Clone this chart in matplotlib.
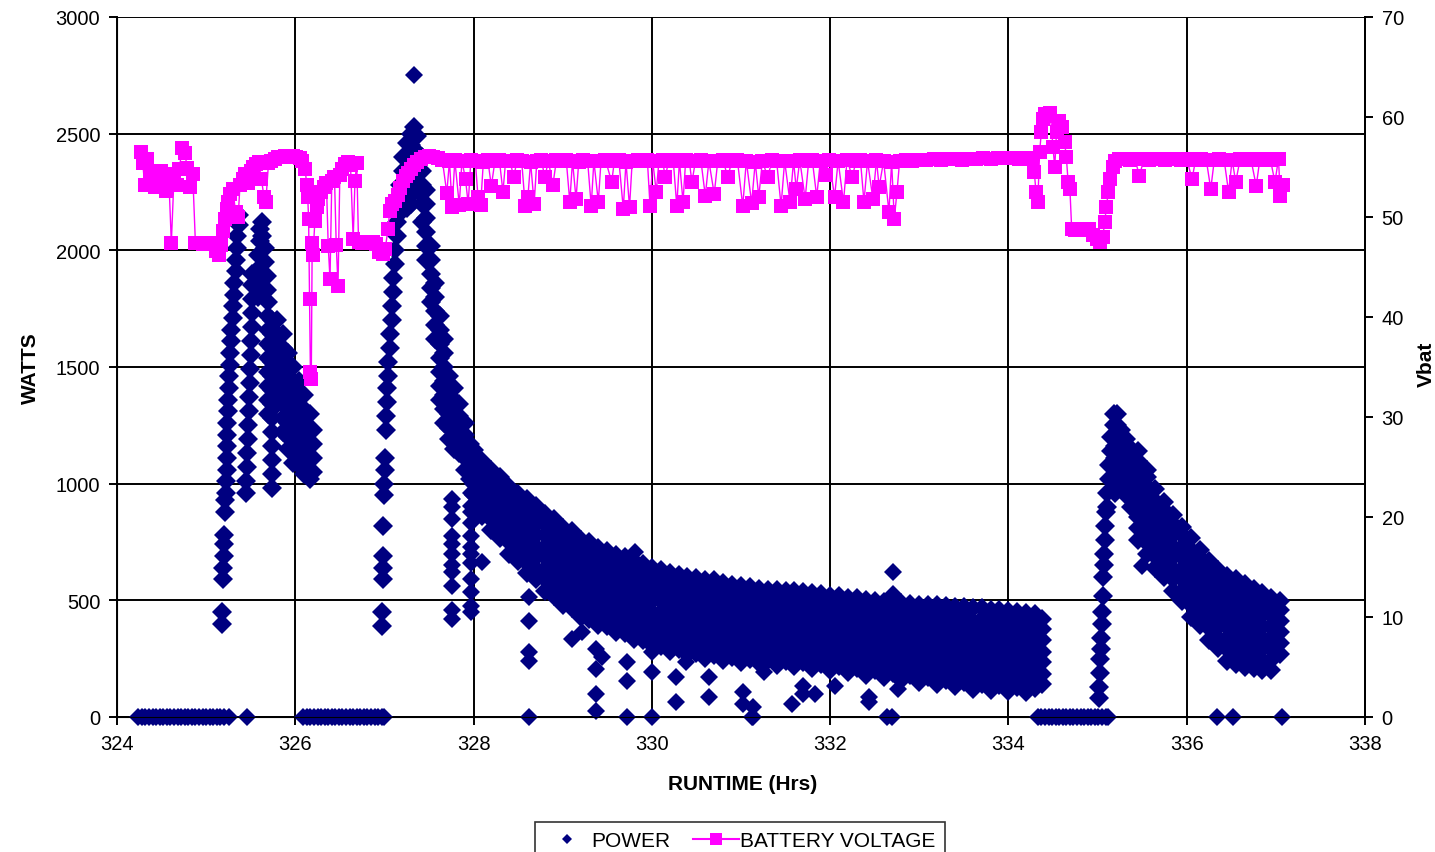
import matplotlib.pyplot as plt
from matplotlib.lines import Line2D

plt.rcParams['font.family'] = ['Liberation Sans', 'DejaVu Sans']

# --- POWER (W) -------------------------------------------------------------
# readings sitting on zero (inverter idle)
idle_hrs = [324.24, 324.28, 324.32, 324.36, 324.40, 324.44, 324.48, 324.52,
            324.56, 324.60, 324.64, 324.68, 324.72, 324.76, 324.80, 324.84,
            324.88, 324.92, 324.96, 325.00, 325.04, 325.08, 325.12, 325.16,
            325.20, 325.26, 325.46,
            326.09, 326.13, 326.17, 326.21, 326.25, 326.29, 326.33, 326.37,
            326.41, 326.45, 326.49, 326.53, 326.57, 326.61, 326.65, 326.69,
            326.73, 326.77, 326.81, 326.85, 326.89, 326.93, 326.97, 327.00,
            328.62, 329.72, 330.00, 331.12, 331.14, 332.64, 332.69,
            334.33, 334.37, 334.41, 334.45, 334.49, 334.53, 334.57, 334.61,
            334.65, 334.69, 334.73, 334.77, 334.81, 334.85, 334.89, 334.93,
            334.97, 335.01, 335.05, 335.09, 335.12,
            336.34, 336.52, 337.07]

# first morning ramp (hour, readings)
peak1_cols = [
    (325.18, [400, 450]), (325.19, [590, 640]), (325.20, [690, 740, 780]),
    (325.21, [880, 930]), (325.22, [960, 1010]), (325.23, [1060, 1110, 1160]),
    (325.24, [1210, 1260]), (325.25, [1310, 1360]), (325.26, [1410, 1460]),
    (325.27, [1510, 1560]), (325.28, [1610, 1660]), (325.30, [1710, 1760]),
    (325.31, [1810, 1860]), (325.33, [1910, 1960]), (325.35, [2010, 2060]),
    (325.37, [2110, 2150]),
    (325.45, [960, 1010]), (325.46, [1070, 1130]), (325.47, [1190, 1250]),
    (325.48, [1310, 1370]), (325.49, [1430, 1490]), (325.50, [1550, 1610]),
    (325.51, [1670, 1730]), (325.52, [1790, 1850, 1900]),
    (325.58, [1800, 1860, 1920, 1980]), (325.60, [2040, 2090]),
    (325.63, [2060, 2120]), (325.66, [1950, 2010]), (325.68, [1830, 1890]),
    (325.70, [1300, 1360, 1420, 1480, 1540, 1600, 1660, 1720, 1780]),
    (325.74, [980, 1040, 1100, 1160, 1220, 1280, 1340, 1400, 1460, 1520,
              1580, 1640, 1700]),
    (325.80, [1340, 1400, 1460, 1520, 1580, 1640, 1700]),
    (325.86, [1220, 1280, 1340, 1400, 1460, 1520, 1580, 1640]),
    (325.92, [1150, 1200, 1260, 1320, 1380, 1440, 1500, 1560]),
    (325.98, [1090, 1140, 1200, 1260, 1320, 1380, 1440, 1500]),
    (326.04, [1080, 1140, 1200, 1260, 1320, 1380, 1440]),
    (326.10, [1040, 1080, 1140, 1200, 1260, 1320, 1380]),
    (326.16, [1020, 1060, 1120, 1180, 1240, 1300]),
    (326.20, [1050, 1110, 1170, 1230]),
]

# second ramp up to the 2750 W spike, then the decay
peak2_cols = [
    (326.97, [390, 450]), (326.98, [590, 640]), (326.99, [690, 820]),
    (327.00, [950, 1000]), (327.01, [1060, 1110]), (327.02, [1230, 1290]),
    (327.03, [1350, 1410]), (327.04, [1460, 1520]), (327.06, [1580, 1640]),
    (327.08, [1700, 1760]), (327.10, [1820, 1880]), (327.12, [1940, 2000]),
    (327.14, [2060, 2120]), (327.17, [2160, 2220, 2280]),
    (327.21, [2200, 2280, 2340, 2400]),
    (327.25, [2180, 2250, 2320, 2400, 2460]),
    (327.30, [2200, 2300, 2380, 2450, 2500]),
    (327.33, [2250, 2350, 2430, 2530]),
    (327.37, [2260, 2340, 2420, 2490]),
    (327.42, [2120, 2200, 2280, 2340, 2400]),
    (327.47, [1960, 2020, 2080, 2140, 2200, 2260]),
    (327.52, [1780, 1840, 1900, 1960, 2020]),
    (327.57, [1620, 1680, 1740, 1800, 1860]),
    (327.62, [1360, 1420, 1480, 1540, 1600, 1660, 1720]),
    (327.67, [1260, 1320, 1380, 1440, 1500, 1560, 1620]),
    (327.72, [1190, 1240, 1300, 1350, 1400, 1460]),
    (327.78, [1150, 1200, 1250, 1300, 1360, 1410]),
    (327.84, [1130, 1180, 1230, 1290, 1340]),
    (327.90, [1060, 1110, 1160, 1210, 1260]),
    (327.96, [1020, 1070, 1120, 1170]),
]

# long afternoon taper
band_cols = [
    (328.0, [905, 950, 1000, 1045, 1095, 1145]),
    (328.1, [860, 905, 955, 1000, 1050, 1095]),
    (328.2, [800, 850, 895, 945, 990, 1040, 1060]),
    (328.3, [765, 810, 860, 905, 955, 1000, 1030]),
    (328.4, [700, 750, 795, 845, 890, 940, 985]),
    (328.5, [670, 715, 765, 810, 860, 905, 955]),
    (328.6, [615, 660, 710, 755, 805, 850, 900, 935]),
    (328.7, [590, 635, 685, 730, 780, 825, 870, 905]),
    (328.8, [540, 590, 635, 685, 730, 780, 825, 870]),
    (328.9, [520, 565, 615, 660, 710, 755, 800, 850]),
    (329.0, [480, 525, 575, 620, 670, 715, 765, 810]),
    (329.1, [465, 510, 560, 605, 655, 700, 750, 795]),
    (329.2, [430, 475, 525, 570, 620, 665, 715, 760]),
    (329.3, [420, 465, 515, 560, 610, 655, 700, 750]),
    (329.4, [395, 440, 490, 535, 585, 630, 680, 725]),
    (329.5, [390, 435, 485, 530, 580, 625, 670, 710]),
    (329.6, [365, 410, 460, 505, 555, 600, 650, 695]),
    (329.7, [360, 405, 455, 500, 550, 595, 640, 685]),
    (329.8, [335, 380, 430, 475, 525, 570, 620, 670]),
    (329.9, [330, 375, 425, 470, 520, 565, 610, 655]),
    (330.0, [310, 355, 405, 450, 500, 545, 595, 640]),
    (330.1, [305, 350, 400, 445, 495, 540, 585, 630]),
    (330.2, [283, 330, 375, 425, 470, 520, 565, 615]),
    (330.3, [290, 335, 385, 430, 480, 525, 570, 610]),
    (330.4, [268, 315, 360, 410, 455, 505, 550, 600]),
    (330.5, [275, 320, 370, 415, 465, 510, 555, 595]),
    (330.6, [253, 300, 345, 395, 440, 490, 535, 585]),
    (330.7, [265, 310, 360, 405, 455, 500, 545, 585]),
    (330.8, [243, 290, 335, 385, 430, 480, 525, 575]),
    (330.9, [255, 300, 350, 395, 445, 490, 535, 565]),
    (331.0, [236, 280, 330, 375, 425, 470, 520, 560]),
    (331.1, [250, 295, 345, 390, 440, 485, 530, 555]),
    (331.2, [230, 275, 325, 370, 420, 465, 510, 548]),
    (331.3, [245, 290, 340, 385, 435, 480, 525, 545]),
    (331.4, [224, 270, 320, 365, 415, 460, 505, 545]),
    (331.5, [240, 285, 335, 380, 430, 475, 520, 540]),
    (331.6, [217, 265, 310, 360, 405, 455, 500, 540]),
    (331.7, [235, 280, 330, 375, 425, 470, 515, 535]),
    (331.8, [210, 258, 305, 355, 400, 450, 495, 530]),
    (331.9, [228, 275, 320, 370, 415, 465, 510, 525]),
    (332.0, [201, 248, 295, 345, 390, 440, 485, 520]),
    (332.1, [220, 265, 315, 360, 410, 455, 500, 518]),
    (332.2, [191, 240, 285, 335, 380, 430, 475, 512]),
    (332.3, [210, 255, 305, 350, 400, 445, 490, 508]),
    (332.4, [181, 230, 275, 325, 370, 420, 465, 502]),
    (332.5, [200, 245, 295, 340, 390, 435, 480, 498]),
    (332.6, [170, 220, 265, 315, 360, 410, 455, 492]),
    (332.7, [190, 235, 285, 330, 380, 425, 470, 490]),
    (332.8, [160, 210, 255, 305, 350, 400, 445, 488]),
    (332.9, [180, 225, 275, 320, 370, 415, 460, 485]),
    (333.0, [150, 200, 245, 295, 340, 390, 435, 482]),
    (333.1, [170, 215, 265, 310, 360, 405, 450, 480]),
    (333.2, [141, 190, 235, 285, 330, 380, 425, 478]),
    (333.3, [160, 205, 255, 300, 350, 395, 440, 476]),
    (333.4, [131, 180, 225, 275, 320, 370, 415, 470]),
    (333.5, [150, 195, 245, 290, 340, 385, 430, 472]),
    (333.6, [122, 170, 215, 265, 310, 360, 405, 465]),
    (333.7, [140, 185, 235, 280, 330, 375, 420, 466]),
    (333.8, [116, 165, 210, 260, 305, 355, 400, 460]),
    (333.9, [135, 180, 230, 275, 325, 370, 415, 460]),
    (334.0, [110, 160, 205, 255, 300, 350, 395, 455]),
    (334.1, [130, 175, 225, 270, 320, 365, 410, 450]),
    (334.2, [108, 155, 200, 250, 295, 345, 390, 445]),
    (334.3, [125, 170, 220, 265, 315, 360, 405, 440]),
    (334.38, [140, 185, 235, 280, 330, 375, 420]),
]

# last ramp and decay
peak3_cols = [
    (335.02, [80, 130]), (335.03, [190, 250]), (335.04, [290, 340]),
    (335.05, [400, 450]), (335.06, [520, 600]), (335.07, [650, 700]),
    (335.08, [760, 820]), (335.09, [880]), (335.11, [900, 960]),
    (335.13, [1020, 1080]), (335.15, [1140, 1200]), (335.18, [1250, 1300]),
    (335.20, [960, 1010, 1060, 1110, 1160, 1210]),
    (335.22, [1250, 1300]),
    (335.26, [980, 1030, 1080, 1130, 1180, 1230]),
    (335.32, [950, 1000, 1050, 1100, 1150, 1190]),
    (335.38, [900, 950, 1000, 1050, 1100, 1150]),
    (335.45, [760, 810, 855, 905, 950, 1000, 1045, 1095, 1140]),
    (335.55, [700, 745, 795, 840, 890, 935, 985, 1030, 1060]),
    (335.65, [640, 690, 735, 785, 830, 880, 925, 975]),
    (335.75, [600, 645, 695, 740, 790, 835, 885, 920]),
    (335.85, [540, 590, 635, 685, 730, 780, 825, 865]),
    (335.95, [495, 540, 590, 635, 685, 730, 780, 815]),
    (336.05, [430, 480, 525, 575, 620, 670, 715, 765]),
    (336.15, [395, 440, 490, 535, 585, 630, 680, 715]),
    (336.25, [330, 380, 425, 475, 520, 570, 615, 670]),
    (336.35, [295, 340, 390, 435, 485, 530, 580, 630]),
    (336.45, [240, 290, 335, 385, 430, 480, 525, 575, 605]),
    (336.55, [225, 270, 320, 365, 415, 460, 510, 555, 590]),
    (336.65, [215, 260, 310, 355, 405, 450, 500, 545, 570]),
    (336.75, [210, 255, 300, 350, 395, 445, 490, 535, 550]),
    (336.85, [200, 245, 295, 340, 390, 435, 485, 530]),
    (336.95, [200, 245, 290, 340, 385, 435, 480, 510]),
    (337.05, [270, 315, 365, 410, 460, 495]),
]

# isolated readings off the main cloud
stray_cols = [
    (327.33, [2750]),
    (327.76, [420, 460, 560, 620, 650, 700, 740, 775, 850, 900, 935]),
    (327.97, [450, 475, 535, 590, 660, 700, 730, 775, 830, 880, 905, 960]),
    (328.10, [664]), (328.62, [514, 411, 279, 240]), (329.10, [334]),
    (329.22, [364]), (329.37, [291, 206, 99, 26]), (329.44, [257]),
    (329.72, [236, 154]), (329.81, [707]), (330.00, [279, 193]),
    (330.27, [171, 64]), (330.38, [236]), (330.64, [171, 86]),
    (331.02, [107, 56]), (331.13, [43]), (331.26, [193]), (331.57, [56]),
    (331.70, [133, 99]), (331.83, [99]), (332.05, [133]),
    (332.44, [86, 64]), (332.70, [621, 527]), (332.76, [120]),
    (335.50, [649]),
]

# --- BATTERY VOLTAGE (V) ---------------------------------------------------
volt_pts = [
    (324.27, 56.5), (324.29, 55.4), (324.31, 53.2), (324.34, 55.8),
    (324.37, 54.6), (324.40, 54.1), (324.43, 53.0), (324.46, 54.0),
    (324.49, 54.6), (324.52, 53.7), (324.55, 52.6), (324.58, 54.3),
    (324.61, 47.4), (324.64, 54.0), (324.67, 53.2), (324.70, 54.8),
    (324.73, 56.9), (324.76, 56.4), (324.79, 54.9), (324.82, 53.0),
    (324.85, 54.3), (324.88, 47.4), (324.92, 47.4), (324.96, 47.3),
    (325.00, 47.4), (325.04, 47.3), (325.08, 47.4), (325.11, 46.6),
    (325.14, 46.2), (325.17, 47.2), (325.19, 48.6), (325.21, 49.8),
    (325.23, 50.8), (325.25, 51.5), (325.27, 52.3), (325.30, 52.8),
    (325.33, 50.5), (325.36, 50.0), (325.38, 53.2), (325.41, 53.8),
    (325.44, 54.3), (325.47, 53.4), (325.50, 54.6), (325.53, 55.0),
    (325.56, 55.3), (325.59, 55.5), (325.62, 53.8), (325.65, 52.0),
    (325.67, 51.5), (325.70, 55.4), (325.73, 55.6), (325.77, 55.8),
    (325.81, 56.0), (325.85, 56.0), (325.89, 56.1), (325.93, 56.0),
    (325.97, 56.1), (326.01, 56.0), (326.05, 55.9), (326.08, 55.6),
    (326.11, 54.8), (326.13, 53.2), (326.14, 52.0), (326.15, 49.8),
    (326.16, 41.8), (326.17, 34.5), (326.18, 33.8), (326.19, 47.4),
    (326.20, 46.2), (326.22, 49.6), (326.24, 51.0), (326.26, 51.8),
    (326.29, 52.5), (326.32, 53.0), (326.35, 53.4), (326.37, 47.1),
    (326.39, 43.8), (326.41, 53.6), (326.44, 54.0), (326.46, 47.2),
    (326.48, 43.1), (326.50, 54.2), (326.53, 54.8), (326.56, 55.3),
    (326.59, 55.5), (326.62, 55.2), (326.65, 47.8), (326.67, 53.6),
    (326.69, 55.4), (326.71, 47.5), (326.75, 47.4), (326.79, 47.5),
    (326.83, 47.4), (326.87, 47.5), (326.91, 47.3), (326.94, 46.5),
    (326.98, 46.3), (327.01, 46.8), (327.04, 48.8), (327.06, 50.6),
    (327.09, 51.3), (327.12, 51.6), (327.15, 52.2), (327.18, 52.9),
    (327.21, 53.6), (327.24, 54.1), (327.27, 54.4), (327.30, 54.8),
    (327.33, 55.2), (327.37, 55.5), (327.41, 55.8), (327.45, 56.0),
    (327.50, 56.1), (327.55, 56.0), (327.60, 55.9), (327.65, 55.7),
    (327.70, 52.4), (327.73, 55.6), (327.76, 51.0), (327.79, 55.7),
    (327.84, 51.2), (327.87, 55.6), (327.91, 53.8), (327.94, 51.3),
    (327.97, 55.7), (328.02, 55.6), (328.05, 52.0), (328.08, 51.2),
    (328.11, 55.5), (328.16, 55.7), (328.20, 53.1), (328.24, 55.6),
    (328.29, 55.7), (328.33, 52.5), (328.36, 55.6), (328.41, 55.6),
    (328.45, 54.0), (328.49, 55.7), (328.54, 55.6), (328.58, 51.1),
    (328.61, 52.0), (328.64, 55.5), (328.68, 51.3), (328.71, 55.6),
    (328.76, 55.7), (328.80, 54.0), (328.84, 55.6), (328.89, 53.2),
    (328.93, 55.7), (328.98, 55.6), (329.04, 55.7), (329.08, 51.5),
    (329.11, 55.6), (329.15, 51.8), (329.18, 55.5), (329.23, 55.7),
    (329.28, 55.6), (329.32, 51.1), (329.35, 55.6), (329.40, 51.5),
    (329.43, 55.6), (329.48, 55.7), (329.55, 53.5), (329.58, 55.6),
    (329.63, 55.7), (329.68, 50.8), (329.71, 55.5), (329.75, 51.0),
    (329.78, 55.6), (329.84, 55.7), (329.90, 55.6), (329.95, 55.7),
    (329.98, 51.1), (330.01, 55.6), (330.05, 52.5), (330.08, 55.6),
    (330.12, 55.7), (330.15, 54.0), (330.19, 55.6), (330.24, 55.7),
    (330.28, 51.1), (330.31, 55.6), (330.35, 51.5), (330.38, 55.7),
    (330.42, 55.6), (330.45, 53.5), (330.49, 55.6), (330.55, 55.7),
    (330.60, 52.1), (330.64, 55.6), (330.70, 52.3), (330.74, 55.6),
    (330.80, 55.7), (330.85, 54.0), (330.90, 55.6), (330.96, 55.7),
    (331.02, 51.1), (331.06, 55.6), (331.12, 51.4), (331.16, 55.5),
    (331.20, 52.0), (331.24, 55.6), (331.30, 54.0), (331.35, 55.7),
    (331.40, 55.6), (331.45, 51.1), (331.49, 55.6), (331.55, 51.5),
    (331.59, 55.6), (331.62, 52.8), (331.66, 55.7), (331.72, 51.8),
    (331.76, 55.6), (331.80, 55.7), (331.85, 52.0), (331.89, 55.6),
    (331.95, 54.2), (331.99, 55.7), (332.05, 52.0), (332.09, 55.6),
    (332.15, 51.5), (332.19, 55.7), (332.25, 54.0), (332.29, 55.6),
    (332.34, 55.7), (332.38, 51.5), (332.42, 55.6), (332.48, 51.8),
    (332.52, 55.7), (332.55, 53.0), (332.60, 55.6), (332.66, 50.5),
    (332.69, 55.5), (332.72, 49.8), (332.75, 52.5), (332.78, 55.6),
    (332.85, 55.7), (332.92, 55.6), (333.00, 55.7), (333.08, 55.7),
    (333.16, 55.8), (333.24, 55.7), (333.32, 55.8), (333.40, 55.8),
    (333.48, 55.7), (333.56, 55.8), (333.64, 55.8), (333.72, 55.9),
    (333.80, 55.8), (333.88, 55.9), (333.96, 55.9), (334.04, 55.9),
    (334.12, 55.8), (334.20, 55.9), (334.26, 55.8), (334.29, 54.5),
    (334.31, 52.5), (334.33, 51.5), (334.35, 56.5), (334.37, 58.5),
    (334.39, 59.8), (334.41, 60.3), (334.44, 60.1), (334.47, 60.4),
    (334.50, 57.0), (334.52, 55.0), (334.54, 58.5), (334.57, 59.6),
    (334.60, 59.0), (334.63, 57.5), (334.65, 56.0), (334.67, 53.5),
    (334.69, 52.8), (334.71, 48.8), (334.75, 48.7), (334.80, 48.8),
    (334.85, 48.7), (334.90, 48.8), (334.95, 48.2), (334.99, 47.8),
    (335.03, 47.5), (335.06, 48.0), (335.08, 49.5), (335.10, 51.0),
    (335.12, 52.5), (335.14, 53.8), (335.17, 55.0), (335.20, 55.6),
    (335.24, 55.8), (335.30, 55.8), (335.36, 55.7), (335.42, 55.8),
    (335.47, 54.1), (335.52, 55.8), (335.58, 55.7), (335.64, 55.8),
    (335.70, 55.8), (335.76, 55.7), (335.82, 55.8), (335.88, 55.8),
    (335.94, 55.7), (336.00, 55.8), (336.06, 53.8), (336.10, 55.7),
    (336.16, 55.8), (336.22, 55.7), (336.27, 52.8), (336.31, 55.7),
    (336.36, 55.8), (336.42, 55.7), (336.47, 52.5), (336.51, 55.7),
    (336.55, 53.5), (336.60, 55.8), (336.66, 55.7), (336.72, 55.8),
    (336.78, 53.1), (336.82, 55.7), (336.88, 55.8), (336.94, 55.7),
    (336.99, 53.5), (337.03, 55.8), (337.05, 52.1), (337.08, 53.2),
]

x_ticks = [324, 326, 328, 330, 332, 334, 336, 338]
watt_ticks = [0, 500, 1000, 1500, 2000, 2500, 3000]
volt_ticks = [0, 10, 20, 30, 40, 50, 60, 70]


def flatten(groups):
    hrs, watts = [], []
    for group in groups:
        for hr, vals in group:
            for v in vals:
                hrs.append(hr)
                watts.append(v)
    return hrs, watts


# dense clouds get a slightly fatter marker so overlapping readings merge
dense_hrs, dense_w = flatten((peak1_cols, peak2_cols, band_cols, peak3_cols))
sparse_hrs, sparse_w = flatten((stray_cols,))
sparse_hrs += idle_hrs
sparse_w += [0] * len(idle_hrs)

v_hrs = [p[0] for p in volt_pts]
v_vals = [p[1] for p in volt_pts]

navy = '#000080'
magenta = '#FF00FF'
fs = 15

fig = plt.figure(figsize=(14.35, 8.53), dpi=100)
ax = fig.add_axes([0.0815, 0.1583, 0.8697, 0.8206])

ax.plot(dense_hrs, dense_w, linestyle='none', marker='D', ms=10.5,
        color=navy, markeredgewidth=0, zorder=3)
ax.plot(sparse_hrs, sparse_w, linestyle='none', marker='D', ms=8.8,
        color=navy, markeredgewidth=0, clip_on=False, zorder=3)

ax.set_xlim(324, 338)
ax.set_ylim(0, 3000)
ax.set_xticks(x_ticks)
ax.set_yticks(watt_ticks)
ax.grid(True, color='black', linewidth=1.4, zorder=0)
ax.set_axisbelow(True)
ax.spines['top'].set_visible(False)
for s in ('left', 'bottom', 'right'):
    ax.spines[s].set_linewidth(1.4)
ax.tick_params(direction='out', length=6, width=1.4, labelsize=fs - 0.5,
               pad=6)
ax.set_xlabel('RUNTIME (Hrs)', fontsize=fs, fontweight='bold')
ax.set_ylabel('WATTS', fontsize=fs, fontweight='bold')
ax.xaxis.set_label_coords(0.5016, -0.081)
ax.yaxis.set_label_coords(-0.062, 0.5)

ax2 = ax.twinx()
ax2.plot(v_hrs, v_vals, color=magenta, linewidth=1.0, marker='s', ms=9.6,
         markeredgewidth=0, zorder=4)
ax2.set_ylim(0, 70)
ax2.set_yticks(volt_ticks)
ax2.spines['top'].set_visible(False)
ax2.spines['right'].set_linewidth(1.4)
ax2.tick_params(direction='out', length=6, width=1.4, labelsize=fs - 0.5,
                pad=6)
ax2.set_ylabel('Vbat', fontsize=fs, fontweight='bold')
ax2.yaxis.set_label_coords(1.0417, 0.505)

handles = [
    Line2D([], [], linestyle='none', marker='D', ms=5, color=navy,
           markeredgewidth=0),
    Line2D([], [], color=magenta, linewidth=1.5, marker='s', ms=8.5,
           markeredgewidth=0),
]
leg = fig.legend(handles, ['POWER', 'BATTERY VOLTAGE'], loc='upper center',
                 bbox_to_anchor=(0.5157, 0.0355), ncol=2, fontsize=fs,
                 frameon=True, fancybox=False, handlelength=2.2,
                 handletextpad=0.05, columnspacing=1.1, borderpad=0.45,
                 borderaxespad=0)
leg.get_frame().set_edgecolor('black')
leg.get_frame().set_linewidth(1.2)

fig.savefig('out.png', dpi=100)
